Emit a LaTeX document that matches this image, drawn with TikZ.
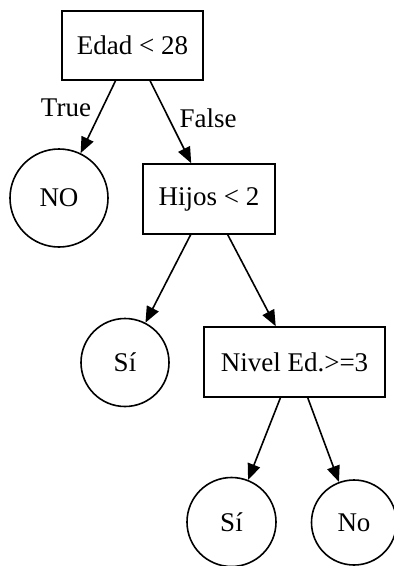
\documentclass[tikz,border=0pt]{standalone}
\usepackage{fontspec}
\setmainfont{Liberation Serif}
\usetikzlibrary{arrows.meta}
\begin{document}
\begin{tikzpicture}[x=1pt,y=-1pt,
  every node/.style={font=\fontsize{27}{32}\selectfont, text=black},
  box/.style={draw, line width=1.6pt, rectangle, inner sep=0pt},
  leaf/.style={draw, line width=1.6pt, circle, inner sep=0pt},
  edge/.style={draw, line width=1.6pt, -{Triangle[length=16pt,width=13pt]}},
  lbl/.style={inner sep=0pt}]
\useasboundingbox (0,0) rectangle (394,566);
\node[box, minimum width=141pt, minimum height=69pt] (root) at (132.5,45.5) {Edad < 28};
\node[leaf, minimum size=98pt] (no1) at (59,198) {NO};
\node[box, minimum width=132pt, minimum height=70pt] (hijos) at (209,199) {Hijos < 2};
\node[leaf, minimum size=88pt] (si1) at (125,362.5) {Sí};
\node[box, minimum width=181pt, minimum height=70pt] (nivel) at (294.5,362) {Nivel Ed.>=3};
\node[leaf, minimum size=89pt] (si2) at (231.5,522) {Sí};
\node[leaf, minimum size=85pt] (no2) at (354,522.5) {No};
\draw[edge] (root) -- (no1);
\draw[edge] (root) -- (hijos);
\draw[edge] (hijos) -- (si1);
\draw[edge] (hijos) -- (nivel);
\draw[edge] (nivel) -- (si2);
\draw[edge] (nivel) -- (no2);
\node[lbl] (ltrue) at (66,108) {True};
\node[lbl] (lfalse) at (208,118) {False};
\end{tikzpicture}
\end{document}
